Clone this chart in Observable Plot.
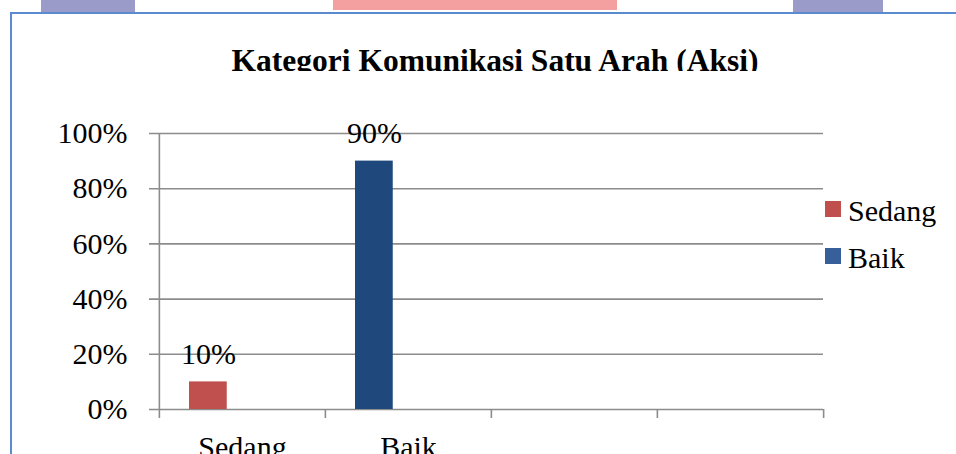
<!DOCTYPE html>
<html>
<head>
<meta charset="utf-8">
<script src="https://cdn.jsdelivr.net/npm/d3@7"></script>
<script src="https://cdn.jsdelivr.net/npm/@observablehq/plot@0.6"></script>
<style>
  html, body { margin: 0; padding: 0; background: #fff; }
  #wrap { position: relative; width: 956px; height: 454px; overflow: hidden; background: #fff;
          font-family: "Liberation Serif", "Times New Roman", serif; color: #000; }
  .hl { position: absolute; top: 0; height: 12px; }
  #frame { position: absolute; left: 10px; top: 12px; width: 1000px; height: 500px;
           border-left: 2px solid #5a8bcf; border-top: 2px solid #5a8bcf; }
  #titleClip { position: absolute; left: 0; top: 14px; width: 956px; height: 57px; overflow: hidden; }
  #title { position: absolute; left: 0; top: 31px; width: 990px; text-align: center;
           font-weight: bold; font-size: 31.5px; line-height: 31.5px; white-space: nowrap; }
  #chart { position: absolute; left: 0; top: 0; }
  .leg { position: absolute; left: 825px; font-size: 30px; line-height: 30px; white-space: nowrap; }
  .leg .sw { position: absolute; left: 0; width: 16px; height: 16px; }
  .leg .lb { position: absolute; left: 23px; }
</style>
</head>
<body>
<div id="wrap">
  <div class="hl" style="left:41px;width:94px;background:#9b9bc9;"></div>
  <div class="hl" style="left:333px;width:284px;height:10px;background:#f5a0a0;"></div>
  <div class="hl" style="left:793px;width:90px;background:#9b9bc9;"></div>
  <div id="frame"></div>
  <div id="titleClip"><div id="title"></div></div>
  <div id="chart"></div>
  <div id="legend"></div>
</div>
<script>
// ---- data ----
const title = "Kategori Komunikasi Satu Arah (Aksi)";
const categories = ["Sedang", "Baik", "kosong3", "kosong4"];
const categoryLabels = ["Sedang", "Baik", "", ""];
const seriesNames = ["Sedang", "Baik"];
const sedangValues = [0.10, null, null, null];
const baikValues = [null, 0.90, null, null];
const yTicks = [0, 0.2, 0.4, 0.6, 0.8, 1.0];
const seriesColors = ["#c0504d", "#1f497d"];
const legendColors = ["#c0504d", "#37609a"];

// ---- table ----
const rows = [];
categories.forEach((c, i) => {
  if (sedangValues[i] != null) rows.push({category: c, series: "Sedang", value: sedangValues[i]});
  if (baikValues[i] != null) rows.push({category: c, series: "Baik", value: baikValues[i]});
});

document.getElementById("title").textContent = title;

const W = 956, H = 454, mL = 158, mR = 133, mT = 133, mB = 45;
const bw = (W - mL - mR) / categories.length;
const gridColor = "#8c8c8c";
const pct = d3.format(".0%");

const chart = Plot.plot({
  width: W, height: H,
  marginLeft: mL, marginRight: mR, marginTop: mT, marginBottom: mB,
  style: {fontFamily: '"Liberation Serif", "Times New Roman", serif', fontSize: "30px", color: "#000", background: "transparent", overflow: "visible"},
  x: {type: "band", domain: categories, padding: 0, axis: null},
  y: {domain: [0, 1], axis: null},
  color: {domain: seriesNames, range: seriesColors},
  marks: [
    Plot.ruleY(yTicks, {stroke: gridColor, strokeWidth: 1.6, insetLeft: -9}),
    Plot.ruleX([categories[0]], {dx: -bw / 2, y1: 1, y2: 0, insetBottom: -9, stroke: gridColor, strokeWidth: 1.6}),
    Plot.ruleX(categories.slice(1), {dx: -bw / 2, y1: 0, y2: 0, insetBottom: -9, stroke: gridColor, strokeWidth: 1.6}),
    Plot.ruleX([categories[categories.length - 1]], {dx: bw / 2, y1: 0, y2: 0, insetBottom: -9, stroke: gridColor, strokeWidth: 1.6}),
    Plot.barY(rows, {x: "category", y: "value", fill: "series", insetLeft: 30, insetRight: bw - 68}),
    Plot.text(rows, {x: "category", y: "value", text: d => pct(d.value), dx: 49 - bw / 2, dy: -28, fill: "#000"}),
    Plot.text(yTicks, {y: d => d, text: d => pct(d), frameAnchor: "left", textAnchor: "end", dx: -31, fill: "#000"}),
    Plot.text(categories, {x: d => d, text: (d, i) => categoryLabels[i], frameAnchor: "bottom", lineAnchor: "top", dy: 26, fill: "#000"})
  ]
});
document.getElementById("chart").appendChild(chart);

// ---- legend ----
const legend = document.getElementById("legend");
const legTops = [196, 243];
seriesNames.forEach((s, i) => {
  const item = document.createElement("div");
  item.className = "leg";
  item.style.top = legTops[i] + "px";
  item.innerHTML = `<span class="sw" style="top:5px;background:${legendColors[i]}"></span><span class="lb">${s}</span>`;
  legend.appendChild(item);
});
</script>
</body>
</html>
